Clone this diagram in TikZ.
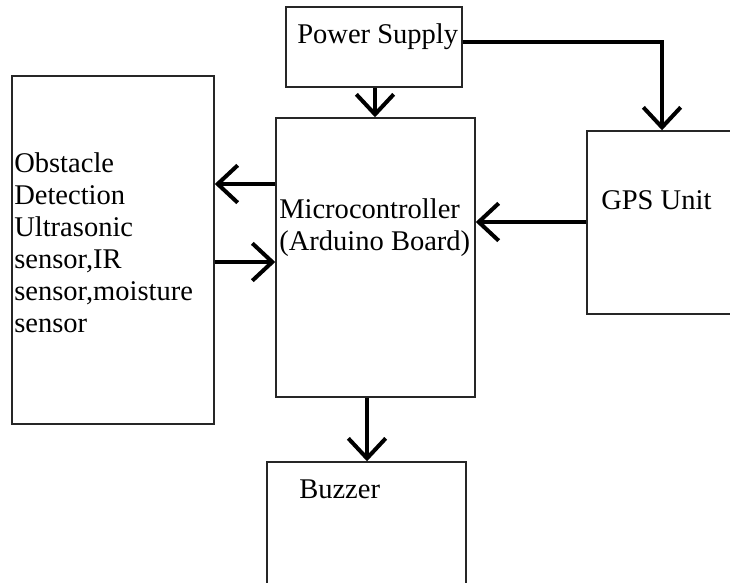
\documentclass[tikz,border=0pt]{standalone}
\usepackage{fontspec}
\setmainfont{Liberation Serif}
\usetikzlibrary{arrows.meta}
\begin{document}
\begin{tikzpicture}[x=0.75pt,y=-0.75pt,
  blk/.style={draw=black!85,line width=1.1pt,inner sep=0pt},
  lbl/.style={inner sep=0pt,font=\fontsize{21.4pt}{24pt}\selectfont,align=left},
  conn/.style={line width=3pt,-{Straight Barb[length=15pt,width=28pt,line width=3pt]}}]
\useasboundingbox (0,0) rectangle (730,582);
\fill[white] (0,0) rectangle (730,582);
\begin{scope}
\clip (0,0) rectangle (730,582);
\node[blk,minimum width=132pt,minimum height=60pt] (ps) at (374,47) {};
\node[blk,minimum width=151.5pt,minimum height=261pt] (obs) at (113,250) {};
\node[blk,minimum width=149.25pt,minimum height=209.25pt] (mc) at (375.5,257.5) {};
\node[blk,minimum width=111pt,minimum height=137.25pt] (gps) at (661,222.5) {};
\node[blk,minimum width=149.25pt,minimum height=103.5pt] (bz) at (366.5,531) {};
\end{scope}
\node[lbl,anchor=base west] (pst) at (297,43) {Power Supply};
\node[lbl,anchor=base west] (obst) at (14,332) {Obstacle\\Detection\\Ultrasonic\\sensor,IR\\sensor,moisture\\sensor};
\node[lbl,anchor=base west] (mct) at (279,250) {Microcontroller\\(Arduino Board)};
\node[lbl,anchor=base west] (gpst) at (601,209) {GPS Unit};
\node[lbl,anchor=base west] (bzt) at (299,498) {Buzzer};
% connectors
\draw[conn] (ps.south -| 375,0) -- (mc.north -| 375,0);
\draw[conn] (ps.east |- 0,42) -- (662,42) -- (gps.north -| 662,0);
\draw[conn] (mc.west |- 0,184) -- (obs.east |- 0,184);
\draw[conn] (obs.east |- 0,262) -- (mc.west |- 0,262);
\draw[conn] (gps.west |- 0,222) -- (mc.east |- 0,222);
\draw[conn] (mc.south -| 367,0) -- (bz.north -| 367,0);
\end{tikzpicture}
\end{document}
